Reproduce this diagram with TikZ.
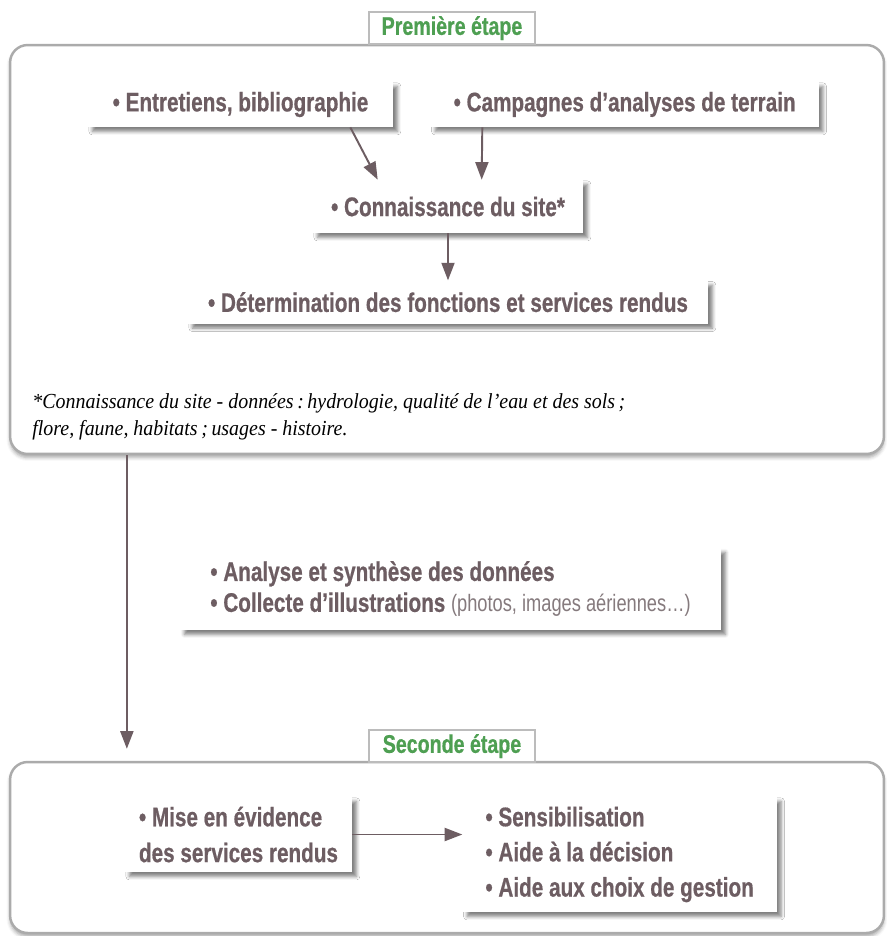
\documentclass[tikz,border=0pt]{standalone}
\usepackage{fontspec}
\setmainfont{Liberation Sans}
\newfontfamily\condfont{Liberation Sans}[FakeStretch=0.77, BoldFeatures={FakeBold=0.6}]
\newfontfamily\notefont{Liberation Serif}[FakeStretch=0.93]
\usepackage{xcolor}
\usepackage{tikz}
\usetikzlibrary{positioning,calc,arrows.meta,shadows.blur}

\definecolor{txtbrown}{HTML}{6D5D62}
\definecolor{lighttxt}{HTML}{857A7D}
\definecolor{stepgreen}{HTML}{4E9F52}
\definecolor{framegray}{HTML}{ABABAB}

\begin{document}
\begin{tikzpicture}[
    x=0.02cm, y=-0.02cm,
    phase/.style={rectangle, draw=framegray, line width=1.4pt, fill=white, rounded corners=10pt,
        blur shadow={shadow xshift=0pt, shadow yshift=-2pt, shadow blur radius=2pt, shadow opacity=35}},
    steplabel/.style={rectangle, draw=framegray!80, line width=1pt, fill=white, inner sep=0pt,
        minimum width=3.32cm, minimum height=0.64cm, text=stepgreen,
        font=\condfont\bfseries\fontsize{14.5}{17}\selectfont},
    box/.style={rectangle, fill=white, inner sep=0pt, text=txtbrown,
        font=\condfont\bfseries\fontsize{15.3}{18}\selectfont,
        blur shadow={shadow xshift=2.5pt, shadow yshift=-2.5pt, shadow blur radius=2pt, shadow opacity=50}},
    listbox/.style={box, align=left},
    line/.style={draw=txtbrown, line width=1.1pt, -{Triangle[length=10pt,width=7.4pt]}}
]
\useasboundingbox (0,0) rectangle (886,936);

% les deux etapes
\node [phase, minimum width=17.48cm, minimum height=8.18cm] (phase1) at (447,249.5) {};
\node [phase, minimum width=17.48cm, minimum height=3.42cm] (phase2) at (447,847.5) {};
\node [steplabel, anchor=south] (step1) at (452,45) {Première étape};
\node [steplabel, anchor=south] (step2) at (452,763) {Seconde étape};

% premiere etape
\node [box, minimum width=6.1cm, minimum height=0.9cm] (entret) at (240.5,104.5) {• Entretiens, bibliographie};
\node [box, minimum width=7.76cm, minimum height=0.9cm, right=0.74cm of entret] (campa) {• Campagnes d’analyses de terrain};
\node [box, minimum width=5.4cm, minimum height=1.06cm] (conn) at (448,206.5) {• Connaissance du site*};
\node [box, minimum width=10.4cm, minimum height=0.86cm, below=0.94cm of conn] (determ) {• Détermination des fonctions et services rendus};
\node [anchor=north west, align=left, inner sep=0pt, text=black,
    font=\notefont\itshape\fontsize{12.2}{15.3}\selectfont] (note) at (32,393)
    {*Connaissance du site - données\,:\,hydrologie, qualité de l’eau et des sols\,;\\
     flore, faune, habitats\,;\,usages - histoire.};

% entre les deux
\node [listbox, minimum width=10.82cm, minimum height=1.64cm,
    font=\condfont\bfseries\fontsize{15.3}{17.6}\selectfont] (analyse) at (450.5,589)
    {• Analyse et synthèse des données\\
     • Collecte d’illustrations {\mdseries\color{lighttxt}\fontsize{13.5}{17.6}\selectfont(photos, images aériennes…)}};

% seconde etape
\node [listbox, minimum width=4.54cm, minimum height=1.5cm,
    font=\condfont\bfseries\fontsize{15.3}{20.4}\selectfont] (mise) at (238.5,834.5)
    {• Mise en évidence\\des services rendus};
\node [listbox, minimum width=6.28cm, minimum height=2.3cm,
    font=\condfont\bfseries\fontsize{15.3}{20}\selectfont,
    right=2.2cm of mise.north east, anchor=north west] (sensib)
    {• Sensibilisation\\• Aide à la décision\\• Aide aux choix de gestion};

\path [line] ($(entret.south east)+(-43,0)$) -- ($(conn.north west)+(65,0)$);
\path [line] ($(campa.south west)+(52,0)$) -- ($(conn.north west)+(169,0)$);
\path [line] (conn) -- (determ);
\path [line] ($(phase1.south west)+(118,0)$) -- ($(phase2.north west)+(118,-12)$);
\path [line] (mise.east) -- (mise.east -| sensib.west);

\end{tikzpicture}
\end{document}
